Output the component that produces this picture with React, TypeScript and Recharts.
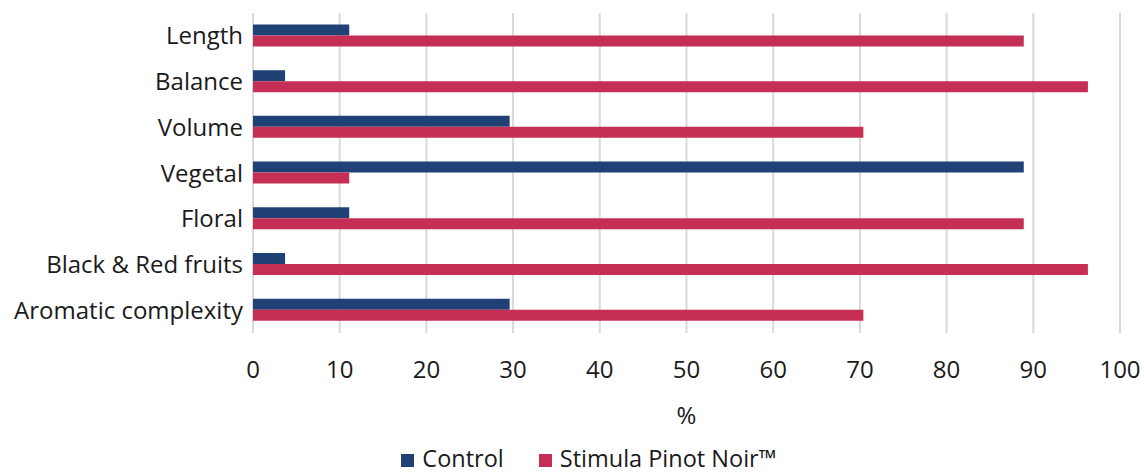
import React from 'react';
import { BarChart, Bar, XAxis, YAxis, CartesianGrid, Legend } from 'recharts';

const categories = ['Length', 'Balance', 'Volume', 'Vegetal', 'Floral', 'Black & Red fruits', 'Aromatic complexity'];
const controlValues = [11.1, 3.7, 29.6, 88.9, 11.1, 3.7, 29.6];
const stimulaValues = [88.9, 96.3, 70.4, 11.1, 88.9, 96.3, 70.4];
const xTicks = [0, 10, 20, 30, 40, 50, 60, 70, 80, 90, 100];
const seriesNames = ['Control', 'Stimula Pinot Noir™'];
const seriesColors = ['#1F4175', '#C62F55'];

const data = categories.map((c, i) => ({ name: c, control: controlValues[i], stimula: stimulaValues[i] }));

const FONT = '"Open Sans", "Noto Sans", sans-serif';
const TEXT = '#1a1a1a';
const FS = 24;

const LegendContent = () => (
  <div style={{ height: 30, position: 'relative' }}>
    <div
      style={{
        display: 'flex',
        justifyContent: 'center',
        alignItems: 'center',
        height: 30,
        transform: 'translate(29px, -1px)',
        fontFamily: FONT,
        fontSize: 23.5,
        color: TEXT,
        whiteSpace: 'nowrap',
      }}
    >
      {seriesNames.map((n, i) => (
        <div key={n} style={{ display: 'flex', alignItems: 'center', marginRight: i === 0 ? 35 : 0 }}>
          <div style={{ width: 13, height: 13, background: seriesColors[i], marginRight: 8, marginTop: 5 }} />
          <span style={{ lineHeight: '24px', display: 'inline-block' }}>{n}</span>
        </div>
      ))}
    </div>
  </div>
);

export default function App() {
  return (
    <div style={{ position: 'absolute', left: 0, top: 0, width: 1144, height: 474, background: '#fff' }}>
      <BarChart
        width={1144}
        height={474}
        data={data}
        layout="vertical"
        margin={{ top: 13, right: 24, bottom: 0, left: 0 }}
        barCategoryGap="25%"
        barGap={0}
      >
        <CartesianGrid horizontal={false} vertical={true} stroke="#d9d9d9" strokeWidth={2} />
        <XAxis
          type="number"
          domain={[0, 100]}
          ticks={xTicks}
          tickLine={false}
          axisLine={false}
          tickSize={0}
          tickMargin={28}
          height={111}
          interval={0}
          tick={{ fill: TEXT, fontSize: FS, fontFamily: FONT }}
          label={{ value: '%', position: 'insideBottom', offset: 20, fill: TEXT, fontSize: FS, fontFamily: FONT }}
        />
        <YAxis
          type="category"
          dataKey="name"
          width={253}
          tickLine={false}
          axisLine={false}
          tickSize={0}
          tickMargin={10}
          interval={0}
          tick={{ fill: TEXT, fontSize: FS, fontFamily: FONT }}
        />
        <Legend verticalAlign="bottom" height={30} content={<LegendContent />} />
        <Bar dataKey="control" name={seriesNames[0]} fill={seriesColors[0]} isAnimationActive={false} />
        <Bar dataKey="stimula" name={seriesNames[1]} fill={seriesColors[1]} isAnimationActive={false} />
      </BarChart>
    </div>
  );
}
